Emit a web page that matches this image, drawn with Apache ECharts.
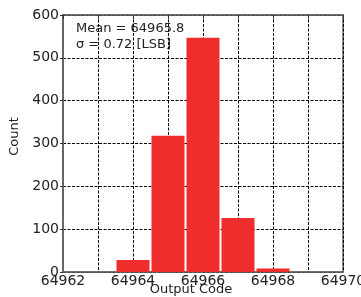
<!DOCTYPE html>
<html>
<head>
<meta charset="utf-8">
<script src="https://cdn.jsdelivr.net/npm/echarts@6/dist/echarts.min.js"></script>
<style>
  html, body { margin: 0; padding: 0; background: #fff; }
  #main { width: 361px; height: 297px; }
</style>
</head>
<body>
<div id="main"></div>
<script>
// histogram bins (output code) and counts
const codes = [64964, 64965, 64966, 64967, 64968];
const counts = [28, 318, 547, 126, 8];
const statLines = ['Mean = 64965.8', 'σ = 0.72 [LSB]'];

const myChart = echarts.init(document.getElementById('main'));
const font = 'DejaVu Sans, sans-serif';

const option = {
  animation: false,
  grid: {
    left: 63, right: 18, top: 15, bottom: 25,
    outerBoundsMode: 'none',
    show: true, borderColor: '#666', borderWidth: 1.5,
  },
  xAxis: [
    {
      type: 'value',
      min: 64962, max: 64970, interval: 1,
      name: 'Output Code',
      nameLocation: 'middle',
      nameGap: 11,
      nameMoveOverlap: false,
      nameTextStyle: { fontFamily: font, fontSize: 13, color: '#222', padding: [0, 24, 0, 0] },
      axisLine: { lineStyle: { color: '#666', width: 1.5 } },
      axisTick: { show: false },
      axisLabel: {
        margin: 2,
        fontFamily: font, fontSize: 14, color: '#222',
        formatter(v) { return v % 2 === 0 ? String(v) : ''; },
      },
      splitLine: { lineStyle: { color: '#000', type: [3, 1.5], width: 1 } },
    },
    {
      type: 'value', position: 'top',
      min: 64962, max: 64970, interval: 1,
      axisLine: { lineStyle: { color: '#666', width: 1.5 } },
      axisTick: { inside: true, length: 4, lineStyle: { color: '#333' } },
      axisLabel: { show: false },
      splitLine: { show: false },
    },
  ],
  yAxis: {
    type: 'value',
    min: 0, max: 600, interval: 100,
    name: 'Count',
    nameLocation: 'middle',
    nameGap: 40,
    nameTextStyle: { fontFamily: font, fontSize: 13, color: '#222', padding: [0, 0, 0, 14] },
    axisLine: { show: true, lineStyle: { color: '#666', width: 2 } },
    axisTick: { show: true, length: 3, lineStyle: { color: '#333' } },
    axisLabel: { margin: 4, fontFamily: font, fontSize: 14, color: '#222' },
    splitLine: { lineStyle: { color: '#000', type: [3, 1.5], width: 1 } },
  },
  graphic: statLines.map((t, i) => ({
    type: 'text',
    x: 76,
    y: 29 + i * 16,
    style: { text: t, font: '13px ' + font, fill: '#222', verticalAlign: 'middle' },
  })),
  series: [{
    type: 'bar',
    barWidth: 33,
    itemStyle: { color: '#ef2d2d' },
    data: codes.map((c, i) => [c, counts[i]]),
  }],
};

myChart.setOption(option);
</script>
</body>
</html>
